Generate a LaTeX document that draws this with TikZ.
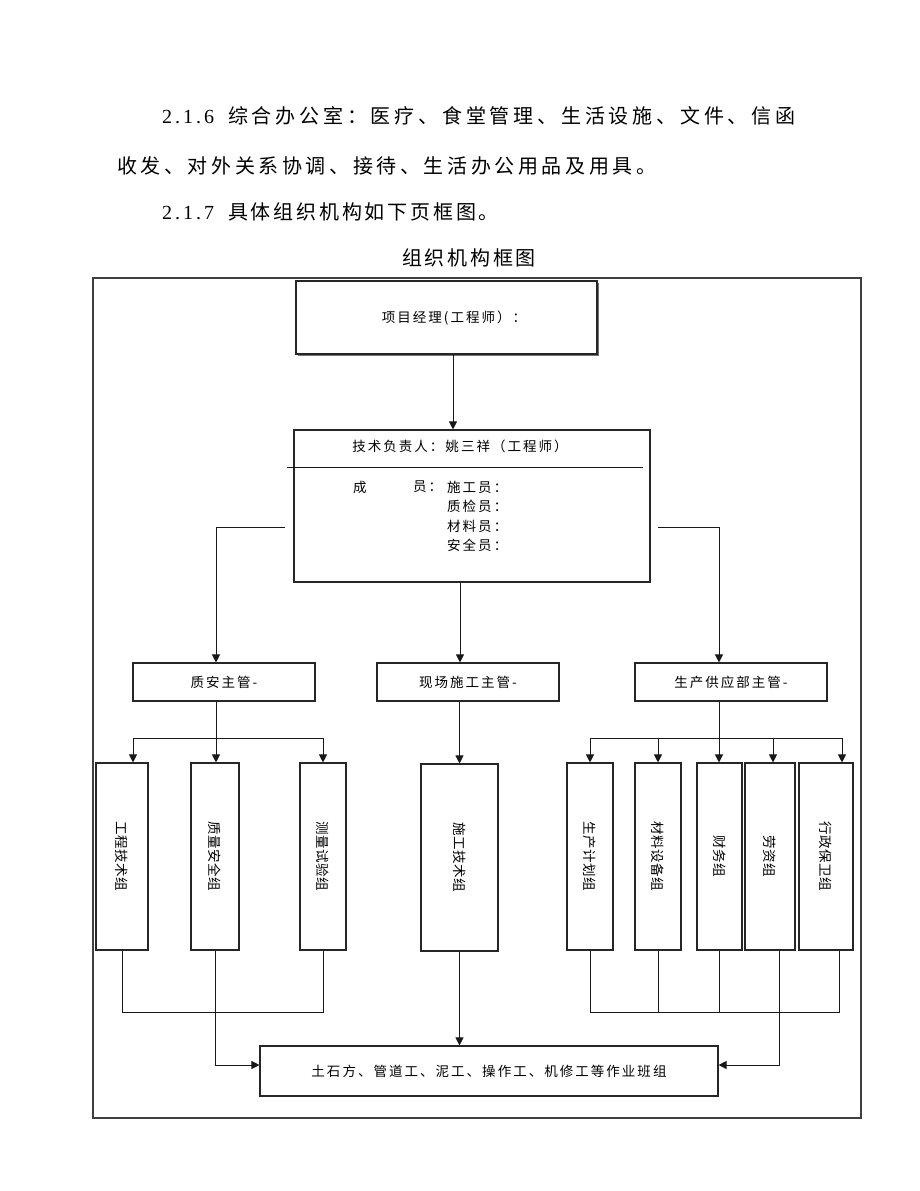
\documentclass[tikz,border=0pt]{standalone}
\usepackage{fontspec}
\usepackage{graphicx}
\setmainfont{Liberation Serif}
\newfontfamily\cjkbig[LetterSpace=14]{Noto Sans CJK SC}
\newfontfamily\cjkbiga[LetterSpace=19]{Noto Sans CJK SC}
\newfontfamily\cjkbigb[LetterSpace=18]{Noto Sans CJK SC}
\newfontfamily\cjkbox[LetterSpace=15]{Noto Sans CJK SC}
\newfontfamily\cjkvert[LetterSpace=3]{Noto Sans CJK SC}
\newfontfamily\numfont[LetterSpace=15]{Liberation Serif}
\usetikzlibrary{arrows.meta,shadows}
\begin{document}
\begin{tikzpicture}[x=1pt,y=-1pt,
  box/.style={draw=black!85,line width=1.1pt,inner sep=0pt,fill=white,
    font={\cjkbox\fontsize{13.5}{16}\selectfont}},
  txt/.style={inner sep=0pt,font={\cjkbox\fontsize{13.5}{16}\selectfont}},
  vbox/.style={box,minimum height=187pt,font={\cjkvert\fontsize{13.5}{16}\selectfont}},
  ln/.style={line width=1pt,draw=black!90},
  arr/.style={ln,-{Triangle[length=8pt,width=8pt]}},
  big/.style={inner sep=0pt,anchor=base west,font={\cjkbig\fontsize{20}{24}\selectfont}},
  num/.style={inner sep=0pt,anchor=base west,font={\numfont\fontsize{20}{24}\selectfont}},
  frame/.style={line width=1.6pt,draw=black!75}]
\fill[white] (0,0) rectangle (920,1191);
\useasboundingbox (0,0) rectangle (920,1191);

% heading text
\node[num] (n1) at (162,123.6) {2.1.6};
\node[big,font={\cjkbiga\fontsize{20}{24}\selectfont}] (t1) at (228,123.6) {综合办公室：医疗、食堂管理、生活设施、文件、信函};
\node[big,font={\cjkbigb\fontsize{20}{24}\selectfont}] (t2) at (117,173.6) {收发、对外关系协调、接待、生活办公用品及用具。};
\node[num] (n3) at (162,219.6) {2.1.7};
\node[big] (t3) at (228,219.6) {具体组织机构如下页框图。};
\node[big,anchor=base] (title) at (469,265.6) {组织机构框图};

% outer frame
\draw[frame] (93,278) rectangle (861,1118);

% top box
\node[box,minimum width=301pt,minimum height=73pt,
  drop shadow={shadow xshift=1.6pt,shadow yshift=-1.6pt,fill=black!55,opacity=1}] (pm) at (446.5,317.5) {};
\node[txt] (pmt) at (454,318) {项目经理(工程师）：};

% technical lead box
\node[box,minimum width=356pt,minimum height=152pt] (tech) at (472,506) {};
\node[txt] (th) at (460,446) {技术负责人：姚三祥（工程师）};
\draw[ln] (287,467) -- (643,467);
\node[txt,anchor=west] (m0) at (353,487) {成};
\node[txt,anchor=west] (m1) at (413,487) {员：};
\node[txt,anchor=west] (m2) at (447,487) {施工员：};
\node[txt,anchor=west] (m3) at (447,506.5) {质检员：};
\node[txt,anchor=west] (m4) at (447,526) {材料员：};
\node[txt,anchor=west] (m5) at (447,545.5) {安全员：};

% managers
\node[box,minimum width=182pt,minimum height=38pt] (qa) at (224,682) {质安主管-};
\node[box,minimum width=182pt,minimum height=38pt] (site) at (468,682) {现场施工主管-};
\node[box,minimum width=192pt,minimum height=38pt] (sup) at (731,682) {生产供应部主管-};

% groups
\node[vbox,minimum width=52pt] (g1) at (122,856.5) {\rotatebox{-90}{工程技术组}};
\node[vbox,minimum width=48pt] (g2) at (215,856.5) {\rotatebox{-90}{质量安全组}};
\node[vbox,minimum width=46pt] (g3) at (323,856.5) {\rotatebox{-90}{测量试验组}};
\node[vbox,minimum width=77pt] (g4) at (459.5,857.5) {\rotatebox{-90}{施工技术组}};
\node[vbox,minimum width=46pt] (r1) at (590,856.5) {\rotatebox{-90}{生产计划组}};
\node[vbox,minimum width=46pt] (r2) at (658,856.5) {\rotatebox{-90}{材料设备组}};
\node[vbox,minimum width=45pt] (r3) at (719.5,856.5) {\rotatebox{-90}{财务组}};
\node[vbox,minimum width=50pt] (r4) at (770,856.5) {\rotatebox{-90}{劳资组}};
\node[vbox,minimum width=54pt] (r5) at (826,856.5) {\rotatebox{-90}{行政保卫组}};

% bottom box
\node[box,minimum width=458pt,minimum height=50pt] (bot) at (489,1071) {土石方、管道工、泥工、操作工、机修工等作业班组};

% connectors: top
\coordinate (pmx) at ([xshift=6.5pt]pm.south);
\draw[arr] (pmx) -- (pmx |- tech.north);
\coordinate (tx) at ([xshift=-12pt]tech.south);
\draw[arr] (tx) -- (tx |- site.north);
\coordinate (tl) at (285,527);
\coordinate (qan) at ([xshift=-8pt]qa.north);
\draw[arr] (tl) -| (qan);
\coordinate (tr) at (658,527);
\coordinate (supn) at ([xshift=-12pt]sup.north);
\draw[arr] (tr) -| (supn);

% qa to groups
\coordinate (qs) at ([xshift=-8pt]qa.south);
\coordinate (qj) at ([yshift=-37pt]qs);
\draw[ln] (qs) -- (qj);
\coordinate (g1n) at ([xshift=11pt]g1.north);
\draw[arr] (qj) -| (g1n);
\draw[arr] (qj) -| (g3.north);
\draw[arr] (qj) -- (qj |- g2.north);

% site to g4
\draw[arr] (g4.north |- site.south) -- (g4.north);

% supply to groups
\coordinate (ss) at ([xshift=-12pt]sup.south);
\coordinate (sj) at ([yshift=-37pt]ss);
\draw[ln] (ss) -- (sj);
\draw[arr] (sj) -| (r1.north);
\draw[arr] (sj) -| (r2.north);
\draw[arr] (sj) -- (sj |- r3.north);
\coordinate (r4n) at ([xshift=3pt]r4.north);
\coordinate (r5n) at ([xshift=16pt]r5.north);
\draw[arr] (sj) -| (r4n);
\draw[arr] (sj) -| (r5n);

% bottom connections left
\coordinate (lb) at ([yshift=-62pt]g1.south);
\draw[ln] (g1.south) -- (lb) -| (g3.south);
\coordinate (g2b) at ([yshift=6pt]bot.west);
\draw[arr] (g2.south) |- (g2b);
\draw[arr] (g4.south) -- (g4.south |- bot.north);

% bottom connections right
\coordinate (rb) at ([yshift=-62pt]r1.south);
\coordinate (r5s) at ([xshift=13pt]r5.south);
\draw[ln] (r1.south) -- (rb) -| (r5s);
\draw[ln] (r2.south) -- (r2.south |- rb);
\draw[ln] (r3.south) -- (r3.south |- rb);
\coordinate (r4s) at ([xshift=9pt]r4.south);
\coordinate (bre) at ([yshift=6pt]bot.east);
\draw[arr] (r4s) |- (bre);
\end{tikzpicture}
\end{document}
